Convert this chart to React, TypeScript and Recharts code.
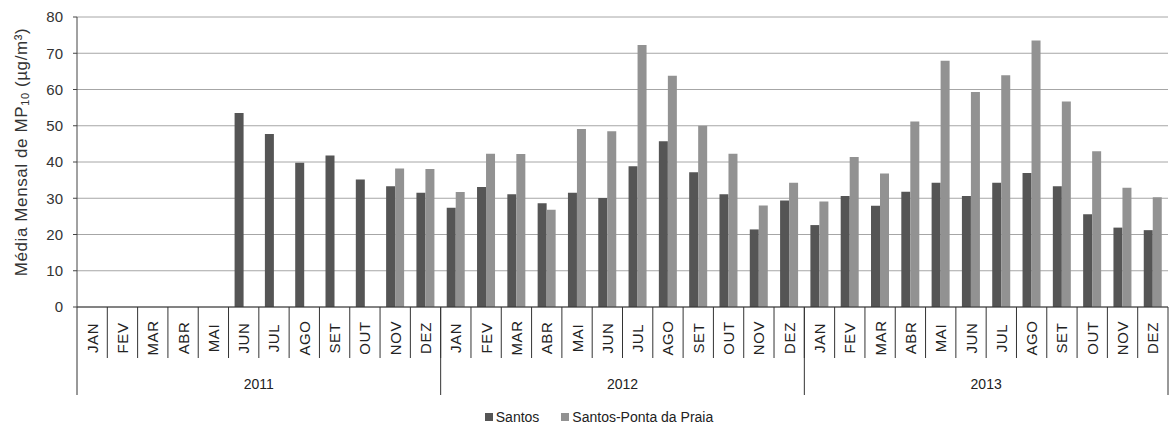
import { BarChart, Bar, XAxis, YAxis, CartesianGrid, Legend } from "recharts";

const months = ["JAN", "FEV", "MAR", "ABR", "MAI", "JUN", "JUL", "AGO", "SET", "OUT", "NOV", "DEZ"];
const years = ["2011", "2012", "2013"];

// Média mensal de MP10 (µg/m³), jan/2011 .. dez/2013
const santos = [
  null, null, null, null, null, 53.5, 47.7, 39.8, 41.8, 35.2, 33.3, 31.5,
  27.4, 33.1, 31.1, 28.6, 31.5, 30.1, 38.8, 45.7, 37.2, 31.1, 21.4, 29.4,
  22.6, 30.6, 27.9, 31.8, 34.3, 30.6, 34.3, 37.0, 33.3, 25.6, 21.9, 21.2,
];
const pontaDaPraia = [
  null, null, null, null, null, null, null, null, null, null, 38.2, 38.1,
  31.7, 42.3, 42.2, 26.8, 49.1, 48.5, 72.3, 63.8, 50.0, 42.3, 28.0, 34.3,
  29.1, 41.4, 36.8, 51.2, 67.9, 59.3, 63.9, 73.5, 56.7, 43.0, 32.9, 30.3,
];
const yTicks = [0, 10, 20, 30, 40, 50, 60, 70, 80];

const data = years.flatMap((year, yi) =>
  months.map((month, mi) => ({
    key: `${month}-${year}`,
    month,
    year,
    santos: santos[yi * 12 + mi],
    praia: pontaDaPraia[yi * 12 + mi],
  }))
);

const FONT = "'Liberation Sans', Arial, sans-serif";
const WIDTH = 1170;
const PLOT_LEFT = 77;
const PLOT_RIGHT = 2;
const BAND = (WIDTH - PLOT_LEFT - PLOT_RIGHT) / data.length;

const MonthTick = (props: any) => {
  const x = Number(props.x);
  const y = Number(props.y);
  const index = props.index;
  const d = data[index];
  const left = x - BAND / 2;
  const right = x + BAND / 2;
  const monthIdx = index % 12;
  return (
    <g>
      <g transform={`translate(${x}, ${y + 31}) rotate(-90)`}>
        <text
          x={0}
          y={0}
          textAnchor="middle"
          dominantBaseline="central"
          fontFamily={FONT}
          fontSize={15}
          letterSpacing={0.6}
          fill="#222"
        >
          {d.month}
        </text>
      </g>
      <line x1={right} x2={right} y1={y} y2={index === data.length - 1 ? y + 88 : y + 51} stroke="#333" />
      {monthIdx === 0 && <line x1={left} x2={left} y1={y} y2={y + 88} stroke="#333" />}
      {monthIdx === 5 && (
        <text
          x={right}
          y={y + 77}
          textAnchor="middle"
          dominantBaseline="central"
          fontFamily={FONT}
          fontSize={14}
          fill="#222"
        >
          {d.year}
        </text>
      )}
    </g>
  );
};

const YLabel = () => (
  <g transform="translate(21, 152) rotate(-90)">
    <text
      x={0}
      y={0}
      textAnchor="middle"
      dominantBaseline="central"
      fontFamily={FONT}
      fontSize={17}
      letterSpacing={0.6}
      fill="#333"
    >
      Média Mensal de MP<tspan fontSize={11} dy={4}>10</tspan>
      <tspan dy={-4}> (µg/m³)</tspan>
    </text>
  </g>
);

const LegendContent = () => (
  <div
    style={{
      height: 30,
      display: "flex",
      justifyContent: "center",
      alignItems: "center",
      gap: 22,
      fontFamily: FONT,
      fontSize: 14,
      color: "#222",
      paddingLeft: 30,
    }}
  >
    <span style={{ display: "flex", alignItems: "center", gap: 3 }}>
      <span style={{ width: 8, height: 8, background: "#555" }} />
      Santos
    </span>
    <span style={{ display: "flex", alignItems: "center", gap: 3 }}>
      <span style={{ width: 8, height: 8, background: "#929292" }} />
      Santos-Ponta da Praia
    </span>
  </div>
);

export default function App() {
  return (
    <div style={{ position: "absolute", left: 0, top: 0, background: "#fff" }}>
      <BarChart
        width={WIDTH}
        height={432}
        data={data}
        margin={{ top: 17, right: PLOT_RIGHT, left: 0, bottom: 0 }}
        barCategoryGap="20%"
        barGap={0}
      >
        <CartesianGrid vertical={false} stroke="#a6a6a6" />
        <XAxis
          dataKey="key"
          interval={0}
          height={95}
          tickSize={0}
          tickMargin={0}
          tick={<MonthTick />}
          axisLine={{ stroke: "#333" }}
          tickLine={false}
        />
        <YAxis
          width={PLOT_LEFT}
          domain={[0, 80]}
          ticks={yTicks}
          tickSize={4}
          tickMargin={10}
          tick={{ fontFamily: FONT, fontSize: 15, fill: "#333" }}
          axisLine={{ stroke: "#444" }}
          tickLine={{ stroke: "#444" }}
          label={<YLabel />}
        />
        <Legend verticalAlign="bottom" content={<LegendContent />} />
        <Bar dataKey="santos" name="Santos" fill="#555" isAnimationActive={false} />
        <Bar dataKey="praia" name="Santos-Ponta da Praia" fill="#929292" isAnimationActive={false} />
      </BarChart>
    </div>
  );
}
